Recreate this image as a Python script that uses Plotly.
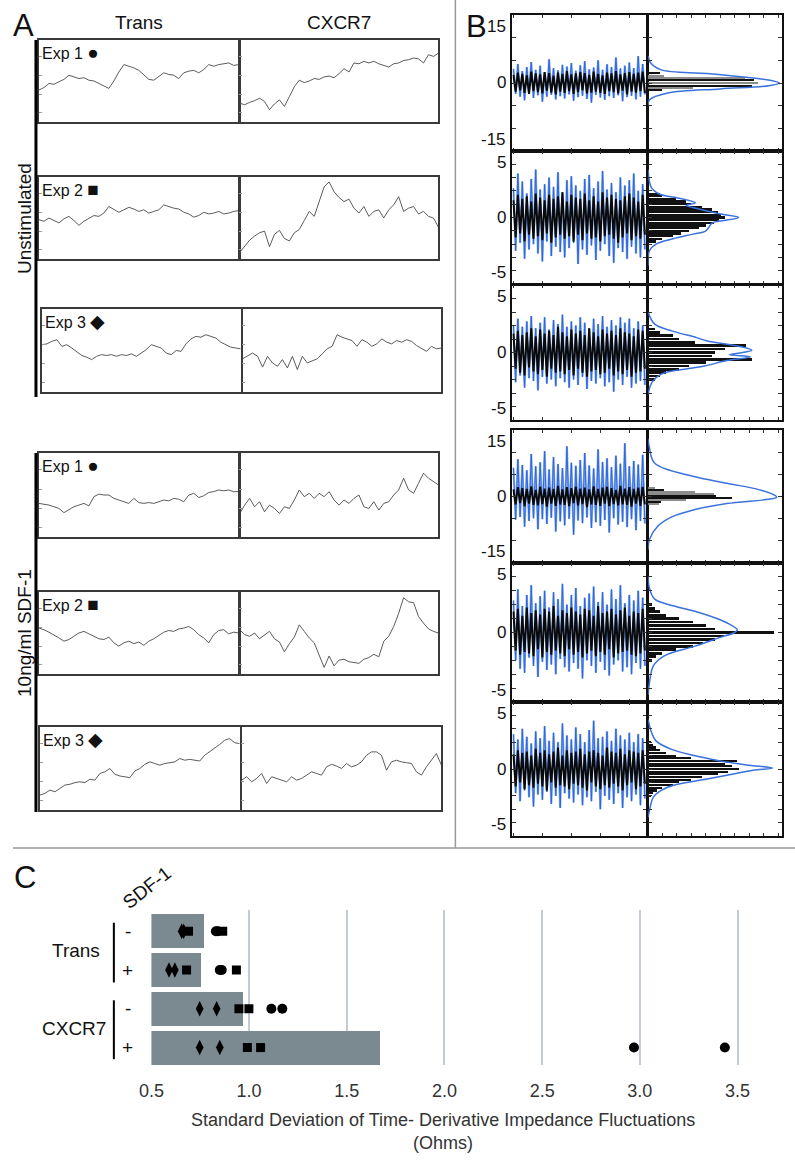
import plotly.graph_objects as go

W, H = 795, 1164
FONT = "Liberation Sans, Arial, sans-serif"

# ---------------- Panel A : impedance traces (relative height, 0-100) ----------------
a_col_titles = ["Trans", "CXCR7"]
a_group_titles = ["Unstimulated", "10ng/ml SDF-1"]
a_exp_labels = ["Exp 1", "Exp 2", "Exp 3"]
a_exp_symbols = ["●", "■", "◆"]

unstim_exp1_trans = [39,42,47,46,49,52,57,55,53,54,51,50,47,45,41,50,61,70,68,66,63,57,52,51,56,60,58,57,53,60,62,63,60,64,70,68,70,71,72,69,70]
unstim_exp1_cxcr7 = [23,21,24,26,29,25,15,22,27,19,31,43,51,48,50,53,52,55,56,54,59,65,61,72,71,74,72,74,71,69,67,71,72,75,76,78,77,72,82,80,84]
unstim_exp2_trans = [48,46,50,47,44,49,52,47,41,46,50,53,52,56,64,60,57,60,63,61,58,60,56,58,60,66,64,62,61,57,55,51,53,57,55,56,58,55,56,58,59]
unstim_exp2_cxcr7 = [8,15,23,28,32,34,15,30,35,25,22,32,36,47,58,52,70,88,94,82,75,70,73,62,56,64,52,58,60,50,60,66,76,58,62,64,55,58,52,50,39]
unstim_exp3_trans = [57,58,61,63,55,57,53,49,44,42,39,43,45,44,45,43,45,44,46,43,47,51,57,55,53,47,45,50,49,58,64,67,66,69,67,65,60,57,54,53,52]
unstim_exp3_cxcr7 = [40,44,47,43,30,43,35,31,39,29,43,27,43,35,38,40,46,52,55,69,66,64,62,55,63,60,55,58,64,60,58,62,60,63,61,56,52,49,55,52,53]
sdf_exp1_trans = [40,39,38,36,34,29,33,36,38,40,37,48,51,50,50,46,44,42,40,46,41,40,41,40,42,44,43,46,45,42,50,52,47,49,53,54,56,55,56,54,54]
sdf_exp1_cxcr7 = [28,38,46,36,42,30,38,34,28,36,34,44,56,48,52,46,52,48,54,44,38,44,40,46,50,36,34,42,32,40,42,50,56,70,56,52,64,76,70,66,62]
sdf_exp2_trans = [56,54,51,48,44,40,42,46,50,52,49,46,43,42,45,38,34,38,40,37,39,35,40,43,47,51,53,52,55,56,58,54,48,44,38,48,53,54,49,51,50]
sdf_exp2_cxcr7 = [54,48,46,50,43,48,52,43,39,27,37,45,60,52,44,38,22,8,22,10,17,18,15,14,13,18,20,24,21,40,46,58,74,93,88,87,70,62,55,52,50]
sdf_exp3_trans = [18,20,24,22,26,30,31,33,34,33,37,36,44,46,50,43,41,40,39,47,50,55,58,56,54,56,57,58,62,60,61,60,59,66,70,74,79,84,86,81,80]
sdf_exp3_cxcr7 = [36,40,34,38,44,32,40,38,36,34,40,36,38,42,46,44,42,52,55,53,50,56,52,54,58,66,70,70,66,48,58,60,58,57,56,46,42,52,60,68,54]

# ---------------- Panel B : time-derivative fluctuations (Ohms) ----------------
b_limits = [15, 5, 5, 15, 5, 5]

b1_blue = [3.1,-2.4,4.2,-3.0,2.6,-3.8,3.5,-2.2,4.6,-3.3,2.9,-2.7,3.8,-4.1,2.4,-3.0,5.2,-2.6,3.3,-3.6,2.8,-2.9,4.0,-3.4,3.6,-2.5,4.4,-3.9,2.7,-3.1,3.9,-2.8,4.8,-3.5,3.0,-4.3,3.4,-2.6,5.0,-3.2,2.9,-3.7,4.1,-2.9,3.5,-3.3,5.6,-2.7,3.2,-4.0,3.8,-3.1,4.5,-2.8,3.3,-3.6,5.9,-3.0,4.2,-2.5]
b1_black = [1.8,-1.9,2.3,-1.6,2.0,-2.2,1.7,-2.4,2.5,-1.8,2.1,-2.0,1.9,-2.3,2.4,-1.7,2.2,-2.1,1.6,-2.5,2.3,-1.9,2.0,-2.2,2.6,-1.8,1.9,-2.4,2.1,-2.0,2.4,-1.6,2.2,-2.3,1.8,-2.1,2.5,-1.9,2.0,-2.2,1.7,-2.4,2.3,-1.8,2.1,-2.0,2.6,-2.3,1.9,-1.7,2.2,-2.5,2.4,-1.9,2.0,-2.1,2.3,-1.8,2.5,-2.2]
b2_blue = [2.2,-2.5,3.3,-1.9,2.7,-3.1,1.8,-2.4,2.9,-2.0,3.6,-2.7,2.1,-3.3,2.5,-1.8,3.0,-2.9,2.3,-2.2,3.4,-2.6,1.9,-3.0,2.8,-2.3,3.1,-1.9,2.4,-3.5,2.0,-2.4,2.9,-2.8,3.2,-2.1,2.2,-3.2,2.7,-2.5,3.5,-2.0,2.1,-2.9,2.6,-3.4,1.9,-2.3,3.0,-2.6,2.4,-3.1,2.8,-2.2,3.3,-2.7,2.0,-3.0,2.5,-2.4]
b2_black = [1.3,-1.5,1.7,-1.2,1.4,-1.8,1.6,-1.3,1.2,-1.6,1.8,-1.4,1.5,-1.7,1.3,-1.2,1.7,-1.9,1.4,-1.5,1.6,-1.3,1.9,-1.6,1.2,-1.4,1.7,-1.8,1.5,-1.3,1.4,-1.7,1.8,-1.2,1.3,-1.6,1.6,-1.5,1.2,-1.8,1.9,-1.4,1.5,-1.3,1.7,-1.6,1.4,-1.9,1.3,-1.5,1.6,-1.2,1.8,-1.7,1.5,-1.4,1.2,-1.6,1.7,-1.3]
b3_blue = [2.0,-2.2,2.5,-1.7,1.9,-2.6,2.3,-1.9,2.7,-2.1,1.8,-2.8,2.2,-1.8,2.6,-2.3,1.7,-2.0,2.4,-2.5,2.1,-1.9,2.8,-2.2,1.9,-2.6,2.3,-2.0,2.0,-2.4,2.6,-1.8,2.2,-2.7,1.8,-2.1,2.5,-2.3,2.1,-1.9,2.7,-2.5,1.9,-2.2,2.4,-2.9,2.0,-2.0,2.6,-2.4,2.2,-1.8,2.5,-2.6,1.8,-2.3,2.3,-2.1,2.0,-2.4]
b3_black = [1.4,-1.2,1.6,-1.5,1.3,-1.7,1.5,-1.1,1.8,-1.4,1.2,-1.6,1.7,-1.3,1.4,-1.8,1.6,-1.2,1.3,-1.5,1.9,-1.4,1.5,-1.6,1.2,-1.3,1.7,-1.7,1.4,-1.2,1.6,-1.5,1.3,-1.8,1.8,-1.4,1.5,-1.3,1.2,-1.6,1.7,-1.5,1.4,-1.2,1.6,-1.7,1.3,-1.4,1.8,-1.6,1.5,-1.3,1.4,-1.8,1.2,-1.5,1.7,-1.4,1.6,-1.2]
b4_blue = [6.5,-5.2,8.4,-4.6,7.1,-6.8,5.9,-5.5,9.6,-4.9,6.8,-7.4,7.7,-5.1,10.2,-6.2,6.1,-4.8,8.9,-7.9,7.3,-5.6,6.4,-6.5,11.3,-5.0,7.6,-8.6,6.9,-5.4,8.2,-6.0,9.8,-4.7,7.0,-7.1,6.3,-5.8,10.6,-6.6,7.8,-5.3,8.6,-8.1,6.6,-4.9,9.2,-6.3,7.4,-5.7,12.0,-6.9,6.8,-5.1,8.0,-7.6,7.2,-5.5,9.4,-6.1]
b4_black = [1.6,-1.8,2.1,-1.5,1.9,-2.2,1.7,-1.6,2.3,-1.9,1.5,-2.0,2.2,-1.7,1.8,-2.3,2.0,-1.6,1.7,-2.1,2.4,-1.8,1.6,-1.9,2.1,-2.2,1.9,-1.5,2.2,-2.0,1.8,-1.7,2.0,-2.4,1.6,-1.8,2.3,-1.9,1.7,-2.1,2.0,-1.6,2.2,-2.2,1.9,-1.7,1.5,-2.0,2.4,-1.8,1.8,-1.9,2.1,-2.3,1.7,-1.6,2.0,-2.1,2.2,-1.8]
b5_blue = [2.3,-2.0,3.1,-2.6,1.9,-2.9,2.7,-1.8,3.4,-2.4,2.1,-3.2,2.6,-2.1,3.0,-2.7,1.8,-2.3,2.9,-3.0,2.4,-1.9,3.5,-2.5,2.0,-2.8,2.7,-2.2,3.2,-2.6,1.9,-3.3,2.5,-2.0,2.8,-2.4,3.3,-2.9,2.2,-2.1,2.9,-2.7,2.0,-3.1,3.1,-2.3,2.4,-2.0,3.4,-2.8,2.1,-2.5,2.7,-3.0,2.3,-2.2,3.0,-2.6,2.5,-2.4]
b5_black = [1.5,-1.3,1.7,-1.6,1.2,-1.4,1.8,-1.5,1.4,-1.7,1.6,-1.2,1.3,-1.8,1.7,-1.4,1.5,-1.6,1.9,-1.3,1.2,-1.5,1.6,-1.7,1.4,-1.2,1.8,-1.6,1.5,-1.4,1.3,-1.8,1.7,-1.5,1.6,-1.3,1.2,-1.7,1.9,-1.4,1.4,-1.6,1.5,-1.2,1.7,-1.8,1.3,-1.5,1.6,-1.4,1.8,-1.3,1.2,-1.6,1.5,-1.7,1.4,-1.5,1.7,-1.3]
b6_blue = [2.6,-1.8,2.2,-2.4,3.0,-1.6,2.4,-2.1,1.9,-2.8,2.8,-1.9,2.3,-2.3,3.2,-1.7,2.1,-2.6,2.7,-2.0,2.0,-2.9,3.4,-1.8,2.5,-2.2,2.2,-2.5,3.1,-1.9,2.6,-2.7,2.0,-2.1,2.9,-2.4,3.6,-1.7,2.3,-3.0,2.4,-2.0,2.8,-2.3,2.1,-2.6,3.0,-1.8,2.5,-2.9,2.2,-2.1,2.7,-2.4,2.0,-1.9,2.6,-2.7,2.3,-2.2]
b6_black = [1.1,-1.3,1.4,-1.0,1.2,-1.5,1.3,-1.2,1.0,-1.4,1.5,-1.1,1.2,-1.3,1.4,-1.6,1.1,-1.0,1.3,-1.4,1.6,-1.2,1.0,-1.3,1.4,-1.5,1.2,-1.1,1.3,-1.2,1.5,-1.4,1.1,-1.6,1.3,-1.0,1.4,-1.3,1.2,-1.5,1.0,-1.2,1.6,-1.4,1.3,-1.1,1.2,-1.3,1.5,-1.6,1.1,-1.2,1.4,-1.0,1.3,-1.5,1.2,-1.3,1.4,-1.1]

# histograms (bin centre in Ohms, relative count 0-100) and fitted curves
h1_black_y = [2.2, 0.6, -0.6, -1.6]
h1_black_n = [9, 81, 79, 11]
h1_gray_y = [1.6, 1.1, 0.0, -1.1]
h1_gray_n = [12, 74, 84, 34]
h1_fit_y = [6.0, 4.4, 2.9, 2.1, 1.1, 0.6, 0.0, -0.6, -1.3, -2.2, -3.7, -5.0]
h1_fit_n = [0, 2, 10, 45, 80, 93, 100, 92, 55, 15, 1, 0]

h2_y = [1.8,1.6,1.4,1.2,1.0,0.8,0.6,0.4,0.2,0.0,-0.2,-0.4,-0.6,-0.8,-1.0,-1.2,-1.4,-1.6,-1.8]
h2_n = [9,11,21,29,33,41,49,53,56,59,54,50,44,39,31,25,19,11,6]
h2_fit_y = [3.6,2.25,1.75,1.5,1.1,0.9,0.75,0.25,0.0,-0.25,-0.4,-1.0,-1.25,-1.6,-2.0,-2.5,-3.6]
h2_fit_n = [0,2.5,9,21,36,29,34,56,69,56,49,44,34,19,6,1,0]

h3_y = [1.75,1.5,1.25,1.0,0.75,0.5,0.25,0.0,-0.25,-0.5,-0.75,-1.0,-1.25,-1.5,-1.75,-2.0]
h3_n = [5,9,19,24,36,75,59,51,49,79,44,31,24,14,9,5]
h3_fit_y = [3.0,2.1,1.6,1.1,0.85,0.48,0.17,0.0,-0.17,-0.32,-0.6,-1.0,-1.2,-1.6,-2.2,-3.1]
h3_fit_n = [0,5,18,37,45,68,79,72,62,78,60,43,30,10,3,0]

h4_black_y = [1.6, 0.15, -0.3, -1.2]
h4_black_n = [12, 52, 64, 10]
h4_gray_y = [2.0, 1.05, 0.6, -0.75, -1.6]
h4_gray_n = [5, 36, 50, 29, 8]
h4_fit_y = [13, 11, 7.5, 4.5, 3.0, 1.5, 0.2, -0.2, -1.6, -3.0, -4.6, -6.8, -9.7, -12]
h4_fit_n = [0, 1, 5, 35, 60, 85, 97, 98, 60, 35, 18, 7, 1, 0]

h5_y = [2.0,1.75,1.5,1.25,1.0,0.75,0.5,0.25,0.0,-0.25,-0.5,-0.75,-1.0,-1.25,-1.5,-1.75,-2.0]
h5_n = [3,5,9,14,24,34,44,51,96,58,51,42,34,21,11,6,3]
h5_fit_y = [4.0,3.2,2.4,1.9,1.4,0.7,0.2,0.0,-0.35,-1.0,-1.7,-2.4,-3.6,-4.5]
h5_fit_n = [0,1,5,20,40,60,68,66,55,35,12,4,1,0]

h6_y = [2.0,1.8,1.6,1.4,1.2,1.0,0.8,0.6,0.4,0.2,0.0,-0.2,-0.4,-0.6,-0.8,-1.0,-1.2,-1.4,-1.6,-1.8,-2.0]
h6_n = [2,4,6,9,14,21,33,68,59,64,69,61,53,41,33,24,19,11,7,4,2]
h6_fit_y = [3.7,2.9,2.1,1.5,1.0,0.6,0.3,0.07,-0.1,-0.37,-0.75,-1.2,-1.6,-2.1,-3.1,-3.6]
h6_fit_n = [0,2,6,17,35,55,75,95,80,65,45,20,10,4,1,0]

# ---------------- Panel C : standard deviation summary ----------------
c_cell = ["Trans", "Trans", "CXCR7", "CXCR7"]
c_sdf = ["-", "+", "-", "+"]
c_mean = [0.77, 0.757, 0.969, 1.67]
c_exp1 = [[0.83, 0.84], [0.85, 0.86], [1.114, 1.17], [2.97, 3.435]]
c_exp2 = [[0.69, 0.865], [0.68, 0.935], [0.948, 0.999], [0.991, 1.059]]
c_exp3 = [[0.655, 0.665], [0.59, 0.62], [0.747, 0.834], [0.747, 0.85]]
c_ticks = [0.5, 1.0, 1.5, 2.0, 2.5, 3.0, 3.5]

# =====================================================================
# horizontal placement: the captured page shows the figure shifted ~12px and
# squeezed by ~1.5%, so layout x positions are corrected for that.
X_SHIFT, X_SCALE = 12.0, 0.985

def fx(p):
    return ((p - X_SHIFT) / X_SCALE) / W

def fy(p):
    return 1 - p / H

def sfx(n):
    return "" if n == 1 else str(n)

layout = {}
traces = []
annotations = []
shapes = []

def add_axes(n, xpx, ypx, xkw, ykw):
    layout["xaxis" + sfx(n)] = dict(domain=[fx(xpx[0]), fx(xpx[1])], anchor="y" + sfx(n), **xkw)
    layout["yaxis" + sfx(n)] = dict(domain=[fy(ypx[1]), fy(ypx[0])], anchor="x" + sfx(n), **ykw)

def txt(x, y, s, size, xanchor="center", yanchor="middle", angle=0, color="#111", xref="paper", yref="paper"):
    annotations.append(dict(x=x, y=y, xref=xref, yref=yref, text=s, showarrow=False,
                            xanchor=xanchor, yanchor=yanchor, textangle=angle,
                            font=dict(family=FONT, size=size, color=color)))

# ---------- Panel A ----------
a_series = [
    (unstim_exp1_trans, unstim_exp1_cxcr7),
    (unstim_exp2_trans, unstim_exp2_cxcr7),
    (unstim_exp3_trans, unstim_exp3_cxcr7),
    (sdf_exp1_trans, sdf_exp1_cxcr7),
    (sdf_exp2_trans, sdf_exp2_cxcr7),
    (sdf_exp3_trans, sdf_exp3_cxcr7),
]
a_rows_px = [(40, 122), (177, 259), (309, 392), (453, 537), (592, 674), (727, 810)]
a_cols_px = [[(38, 238), (239, 438)], [(38, 238), (239, 438)], [(41, 240), (242, 441)],
             [(38, 238), (239, 438)], [(38, 238), (239, 438)], [(39, 239), (241, 441)]]

a_box_x = dict(range=[0, 40], showgrid=False, zeroline=False, showline=True, mirror=True,
               linecolor="#3a3a3a", linewidth=1.5, ticks="", showticklabels=False, fixedrange=True)
a_box_y = dict(range=[0, 100], showgrid=False, zeroline=False, showline=True, mirror=True,
               linecolor="#3a3a3a", linewidth=1.5, ticks="inside", ticklen=3, tickcolor="#9a9a9a",
               tick0=11, dtick=23, showticklabels=False, fixedrange=True)

n = 0
for r, pair in enumerate(a_series):
    for c, vals in enumerate(pair):
        n += 1
        add_axes(n, a_cols_px[r][c], a_rows_px[r], a_box_x, a_box_y)
        traces.append(go.Scatter(x=list(range(len(vals))), y=vals, mode="lines",
                                 line=dict(color="#4a4a4a", width=0.9),
                                 xaxis="x" + sfx(n), yaxis="y" + sfx(n), hoverinfo="skip"))
    x0 = a_cols_px[r][0][0]
    lab = a_exp_labels[r % 3] + ' <span style="font-size:19px">' + a_exp_symbols[r % 3] + "</span>"
    txt(fx(x0 + 1), fy(a_rows_px[r][0]), lab, 16, xanchor="left", yanchor="top")

txt(fx(23), fy(25), "A", 31)
txt(fx(138), fy(22), a_col_titles[0], 19)
txt(fx(338), fy(22), a_col_titles[1], 19)
txt(fx(23), fy(218), a_group_titles[0], 19, angle=-90)
txt(fx(23), fy(633), a_group_titles[1], 19, angle=-90)
for (ya, yb) in [(40, 397), (453, 812)]:
    shapes.append(dict(type="line", xref="paper", yref="paper", x0=fx(35), x1=fx(35),
                       y0=fy(ya), y1=fy(yb), line=dict(color="black", width=3)))

# ---------- Panel B ----------
b_rows_px = [(15, 151), (151, 284), (285, 420), (430, 563), (563, 702), (702, 836)]
b_left_px = (512, 647)
b_right_px = (648, 782)
b_noise = [(b1_blue, b1_black), (b2_blue, b2_black), (b3_blue, b3_black),
           (b4_blue, b4_black), (b5_blue, b5_black), (b6_blue, b6_black)]
b_hist = [
    [(h1_gray_y, h1_gray_n, "#8c8c8c", 0.5), (h1_black_y, h1_black_n, "#111111", 0.5)],
    [(h2_y, h2_n, "#111111", 0.16)],
    [(h3_y, h3_n, "#111111", 0.2)],
    [(h4_gray_y, h4_gray_n, "#8c8c8c", 0.4), (h4_black_y, h4_black_n, "#111111", 0.4)],
    [(h5_y, h5_n, "#111111", 0.2)],
    [(h6_y, h6_n, "#111111", 0.16)],
]
b_fit = [(h1_fit_y, h1_fit_n), (h2_fit_y, h2_fit_n), (h3_fit_y, h3_fit_n),
         (h4_fit_y, h4_fit_n), (h5_fit_y, h5_fit_n), (h6_fit_y, h6_fit_n)]

for r in range(6):
    lim = b_limits[r]
    ybase = dict(range=[-lim, lim], showgrid=False, zeroline=False, showline=True, mirror="ticks",
                 linecolor="#111", linewidth=1.5, ticks="inside", ticklen=4, tickcolor="#333",
                 tick0=0, dtick=5 if lim > 5 else 1, showticklabels=False, fixedrange=True)
    nl = 13 + r
    add_axes(nl, b_left_px, b_rows_px[r],
             dict(range=[-0.5, 60], showgrid=False, zeroline=False, showline=True, mirror="ticks",
                  linecolor="#111", linewidth=1.5, ticks="inside", ticklen=3, tickcolor="#333",
                  tick0=0, dtick=13, showticklabels=False, fixedrange=True), ybase)
    blue, black = b_noise[r]
    traces.append(go.Scatter(x=list(range(len(blue))), y=blue, mode="lines",
                             line=dict(color="#8fb2ee", width=2.2),
                             xaxis="x" + sfx(nl), yaxis="y" + sfx(nl), hoverinfo="skip"))
    traces.append(go.Scatter(x=list(range(len(blue))), y=blue, mode="lines",
                             line=dict(color="#2f66dc", width=1.0),
                             xaxis="x" + sfx(nl), yaxis="y" + sfx(nl), hoverinfo="skip"))
    traces.append(go.Scatter(x=list(range(len(black))), y=black, mode="lines",
                             line=dict(color="#0a0a0a", width=2.0),
                             xaxis="x" + sfx(nl), yaxis="y" + sfx(nl), hoverinfo="skip"))
    nr = 19 + r
    add_axes(nr, b_right_px, b_rows_px[r],
             dict(range=[0, 102], showgrid=False, zeroline=False, showline=True, mirror="ticks",
                  linecolor="#111", linewidth=1.5, ticks="inside", ticklen=3, tickcolor="#333",
                  tick0=0, dtick=11, showticklabels=False, fixedrange=True), ybase)
    for (yy, nn, col, wd) in b_hist[r]:
        traces.append(go.Bar(y=yy, x=nn, orientation="h", width=wd,
                             marker=dict(color=col, line=dict(width=0)),
                             xaxis="x" + sfx(nr), yaxis="y" + sfx(nr), hoverinfo="skip"))
    fy_, fn_ = b_fit[r]
    traces.append(go.Scatter(x=fn_, y=fy_, mode="lines", line=dict(color="#3a72dc", width=1.5, shape="spline"),
                             xaxis="x" + sfx(nr), yaxis="y" + sfx(nr), hoverinfo="skip"))
    # y labels
    yref = "y" + sfx(nl)
    txt(fx(508), lim, str(lim), 17, xanchor="right", yanchor="top", yref=yref)
    txt(fx(508), 0, "0", 17, xanchor="right", yanchor="middle", yref=yref)
    txt(fx(508), -lim, str(-lim), 17, xanchor="right", yanchor="bottom", yref=yref)

txt(fx(476), fy(26), "B", 31)

# separators
shapes.append(dict(type="line", xref="paper", yref="paper", x0=fx(455), x1=fx(455), y0=fy(0), y1=fy(848),
                   line=dict(color="#9a9a9a", width=1.5)))
shapes.append(dict(type="line", xref="paper", yref="paper", x0=0, x1=1, y0=fy(848), y1=fy(848),
                   line=dict(color="#9a9a9a", width=1.5)))

# ---------- Panel C ----------
nc = 25
c_pos = list(range(len(c_mean)))
add_axes(nc, (150.6, 761), (910, 1065),
         dict(range=[0.5, 3.62], showgrid=True, gridcolor="#c3cbd3", gridwidth=1.5, zeroline=False,
              showline=False, tickvals=c_ticks, ticktext=["%.1f" % t for t in c_ticks],
              ticks="outside", ticklen=9, tickcolor="rgba(0,0,0,0)",
              tickfont=dict(family=FONT, size=18, color="#333"), fixedrange=True),
         dict(range=[3.45, -0.55], showgrid=False, zeroline=False, showline=False,
              showticklabels=False, ticks="", fixedrange=True))
traces.append(go.Bar(x=c_mean, y=c_pos, orientation="h", width=0.88,
                     marker=dict(color="#7b8a90", line=dict(width=0)),
                     xaxis="x" + sfx(nc), yaxis="y" + sfx(nc), hoverinfo="skip"))
for vals, sym, size in [(c_exp3, "diamond-tall", 11), (c_exp2, "square", 9), (c_exp1, "circle", 10)]:
    xs, ys = [], []
    for i, pair in enumerate(vals):
        for v in pair:
            xs.append(v)
            ys.append(c_pos[i])
    traces.append(go.Scatter(x=xs, y=ys, mode="markers",
                             marker=dict(symbol=sym, size=size, color="black", line=dict(width=0)),
                             xaxis="x" + sfx(nc), yaxis="y" + sfx(nc), hoverinfo="skip"))

yc = "y" + sfx(nc)
for i in c_pos:
    txt(fx(127), i, c_sdf[i], 19, yref=yc)
txt(fx(75), 0.5, c_cell[0], 19, yref=yc)
txt(fx(73), 2.5, c_cell[2], 19, yref=yc)
for (ya, yb) in [(-0.22, 1.32), (1.78, 3.3)]:
    shapes.append(dict(type="line", xref="paper", yref=yc, x0=fx(113), x1=fx(113), y0=ya, y1=yb,
                       line=dict(color="black", width=2)))
txt(fx(146), fy(887), "SDF-1", 19, angle=-38)
txt(fx(24), fy(877), "C", 31)
txt(fx(443), fy(1120), "Standard Deviation of Time- Derivative Impedance Fluctuations", 18, color="#333")
txt(fx(443), fy(1143), "(Ohms)", 18, color="#333")

fig = go.Figure(data=traces)
fig.update_layout(**layout)
fig.update_layout(width=W, height=H, margin=dict(l=0, r=0, t=0, b=0), showlegend=False,
                  barmode="overlay", bargap=0, paper_bgcolor="white", plot_bgcolor="white",
                  annotations=annotations, shapes=shapes, font=dict(family=FONT))
fig.write_html("out.html", config={"displayModeBar": False},
               post_script="document.body.style.margin='0';document.body.style.padding='0';")
